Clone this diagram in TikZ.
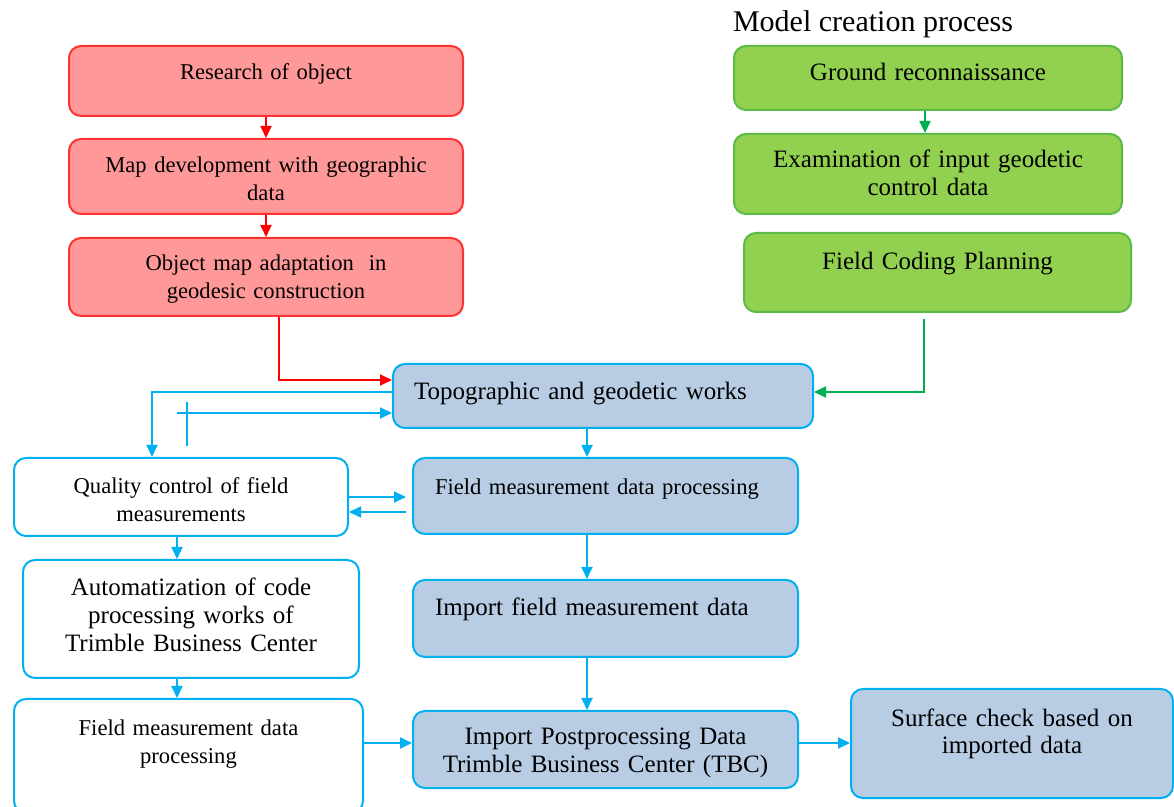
\documentclass[tikz,border=0pt]{standalone}
\usepackage{fontspec}
\setmainfont{Liberation Serif}
\definecolor{boxred}{RGB}{255,153,153}
\definecolor{linered}{RGB}{255,50,50}
\definecolor{arrowred}{RGB}{255,0,0}
\definecolor{boxgreen}{RGB}{146,208,80}
\definecolor{linegreen}{RGB}{90,188,70}
\definecolor{arrowgreen}{RGB}{0,176,80}
\definecolor{boxblue}{RGB}{184,204,228}
\definecolor{lineblue}{RGB}{0,176,240}
\usepackage{tikz}
\usetikzlibrary{arrows.meta,positioning,calc}

\tikzset{
  flowbox/.style={rounded corners=6pt, line width=1pt, inner ysep=0pt, inner xsep=4pt, align=center, anchor=north west},
  dims/.style n args={3}{text width=#1pt, text height=#2pt, text depth=#3pt},
  smalltext/.style={font=\fontsize{11.3}{13.7}\selectfont},
  bigtext/.style={font=\fontsize{12.5}{13.9}\selectfont},
  redbox/.style={flowbox, fill=boxred, draw=linered, smalltext},
  greenbox/.style={flowbox, fill=boxgreen, draw=linegreen, bigtext},
  bluebox/.style={flowbox, fill=boxblue, draw=lineblue, bigtext},
  whitebox/.style={flowbox, fill=white, draw=lineblue, smalltext},
  redarrow/.style={draw=arrowred, line width=0.9pt, -{Triangle[length=6pt,width=5.5pt]}},
  greenarrow/.style={draw=arrowgreen, line width=0.9pt, -{Triangle[length=6pt,width=5.5pt]}},
  bluearrow/.style={draw=lineblue, line width=0.9pt, -{Triangle[length=6pt,width=5.5pt]}},
  blueline/.style={draw=lineblue, line width=0.9pt}
}

\begin{document}
\begin{tikzpicture}[x=0.5pt, y=-0.5pt]
  \useasboundingbox (0,0) rectangle (1174,807);

  % left branch
  \node[redbox, dims={189}{17}{18}] (research) at (68,45) {Research of object};
  \node[redbox, dims={189}{17}{20.5}] (mapdev) at (68,138) {Map development with geographic\\data};
  \node[redbox, dims={189}{16.5}{22.5}] (objmap) at (68,237) {Object map adaptation\ \ in\\geodesic construction};

  % right branch
  \node[anchor=base west, font=\fontsize{15}{18}\selectfont] (title) at (726,32) {Model creation process};
  \node[greenbox, dims={186}{17.5}{14.5}] (ground) at (733,45) {Ground reconnaissance};
  \node[greenbox, dims={186}{17}{23}] (exam) at (733,133) {Examination of input geodetic\\control data};
  \node[greenbox, dims={185.5}{18.5}{21}] (coding) at (743,232) {Field Coding Planning};

  % main column
  \node[bluebox, align=left, inner xsep=10.5pt, dims={189}{18}{14}] (topo) at (392,363) {Topographic and geodetic works};
  \node[bluebox, smalltext, align=left, inner xsep=11pt, dims={170.5}{18.5}{19.5}] (fieldproc) at (412,457) {Field measurement data processing};
  \node[bluebox, align=left, inner xsep=11pt, dims={170.5}{18}{20.5}] (import) at (412,579) {Import field measurement data};
  \node[bluebox, dims={184.5}{17}{21.5}] (importpp) at (412,710) {Import Postprocessing Data\\Trimble Business Center (TBC)};
  \node[bluebox, dims={153}{18.5}{36}] (surface) at (850,688) {Surface check based on\\imported data};

  % control column
  \node[whitebox, dims={159}{18}{21}] (quality) at (13,457) {Quality control of field\\measurements};
  \node[whitebox, bigtext, dims={160}{18}{41}] (automat) at (22,559) {Automatization of code\\processing works of\\Trimble Business Center};
  \node[whitebox, dims={166.5}{18.5}{38.5}] (fieldwhite) at (13,698) {Field measurement data\\processing};

  % red connectors
  \draw[redarrow] (research) -- (mapdev);
  \draw[redarrow] (mapdev) -- (objmap);
  \draw[redarrow] ($(objmap.south west)+(211,0)$) |- ($(topo.north west)+(0,17)$);

  % green connectors
  \draw[greenarrow] ($(ground.south west)+(192,0)$) -- ($(exam.north west)+(192,0)$);
  \draw[greenarrow, shorten <=3pt] ($(coding.south west)+(181,0)$) |- ($(topo.north east)+(0,29)$);

  % blue connectors
  \draw[bluearrow] ($(topo.north west)+(0,29)$) -| ($(quality.north west)+(139,0)$);
  \coordinate (backtail) at (177,413);
  \coordinate (stubtop) at (187,402);
  \coordinate (stubbot) at (187,446);
  \draw[bluearrow] (backtail) -- (backtail -| topo.west);
  \draw[blueline] (stubbot) -- (stubtop);
  \draw[bluearrow] ($(topo.south west)+(195,0)$) -- ($(fieldproc.north west)+(175,0)$);
  \draw[bluearrow] ($(fieldproc.south west)+(175,0)$) -- ($(import.north west)+(175,0)$);
  \draw[bluearrow] ($(import.south west)+(175,0)$) -- ($(importpp.north west)+(175,0)$);
  \coordinate (qout) at ($(quality.north east)+(0,40)$);
  \coordinate (qin) at ($(quality.north east)+(0,55)$);
  \draw[bluearrow, shorten >=3pt] (qout) -- (qout -| fieldproc.west);
  \draw[bluearrow, shorten <=3pt] (qin -| fieldproc.west) -- (qin);
  \draw[bluearrow] ($(quality.south west)+(164,0)$) -- ($(automat.north west)+(155,0)$);
  \draw[bluearrow] ($(automat.south west)+(155,0)$) -- ($(fieldwhite.north west)+(164,0)$);
  \coordinate (ppin) at ($(importpp.north west)+(0,33)$);
  \draw[bluearrow] (fieldwhite.east |- ppin) -- (ppin);
  \draw[bluearrow] (importpp.east |- ppin) -- (surface.west |- ppin);
\end{tikzpicture}
\end{document}
